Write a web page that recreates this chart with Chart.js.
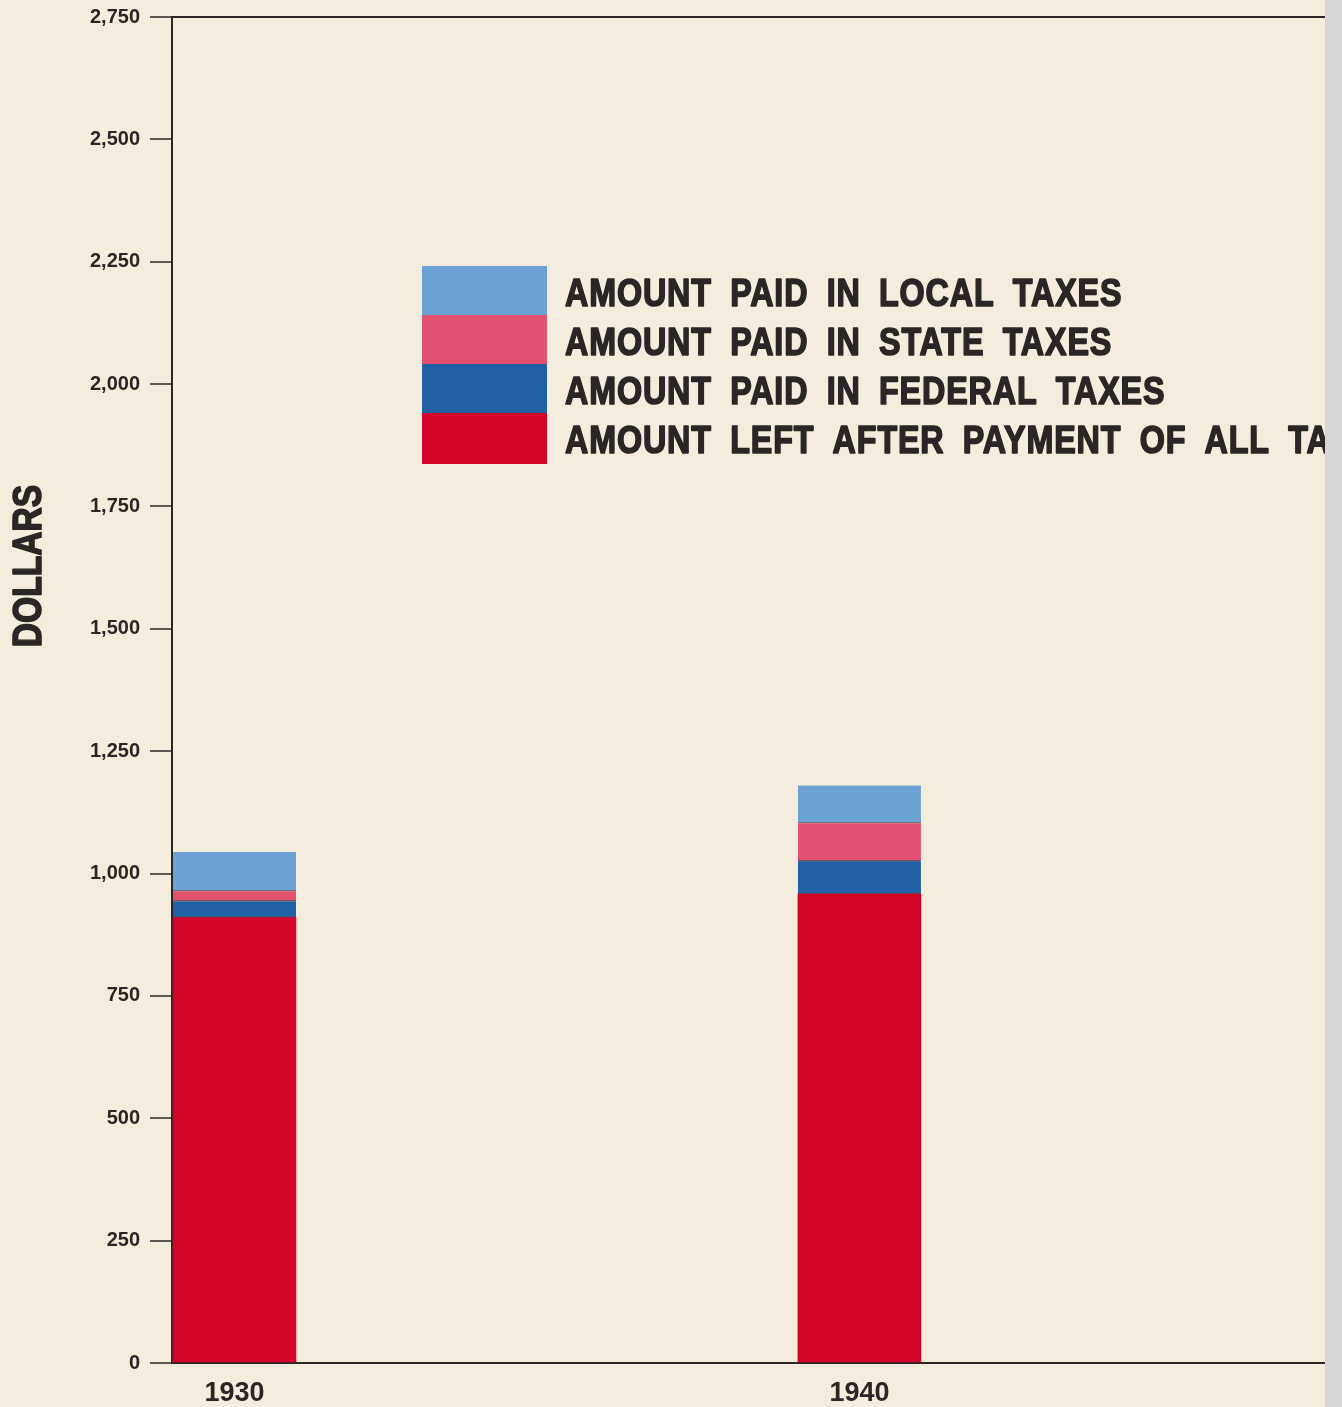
<!DOCTYPE html>
<html>
<head>
<meta charset="utf-8">
<script src="https://cdn.jsdelivr.net/npm/chart.js@4.4.1/dist/chart.umd.min.js"></script>
<style>
  html, body { margin: 0; padding: 0; background: #d5d8d6; }
  #page { width: 1325px; height: 1407px; background: #f4eddd; position: relative; }
</style>
</head>
<body>
<div id="page"><canvas id="chart"></canvas></div>
<script>
// values (dollars)
const years = [1930, 1940];
const leftAfterTaxes = [910, 958];
const federalTaxes = [33, 67];
const stateTaxes = [21, 78];
const localTaxes = [80, 77];
const yTicks = [0, 250, 500, 750, 1000, 1250, 1500, 1750, 2000, 2250, 2500, 2750];

const seriesLabels = [
    'AMOUNT LEFT AFTER PAYMENT OF ALL TAXES',
    'AMOUNT PAID IN FEDERAL TAXES',
    'AMOUNT PAID IN STATE TAXES',
    'AMOUNT PAID IN LOCAL TAXES'
];
const seriesColors = ['#d2042a', '#2161a6', '#e25170', '#6ca2d3'];
const ink = '#2a2626';

const toPoints = arr => years.map((yr, i) => ({ x: yr, y: arr[i] }));

// heavy condensed text, like the printed lettering
function heavyText(ctx, text, x, y, sx) {
    ctx.save();
    ctx.translate(x, y);
    ctx.scale(sx, 1);
    ctx.lineWidth = 1.6;
    ctx.lineJoin = 'round';
    ctx.strokeStyle = ink;
    ctx.strokeText(text, 0, 0);
    ctx.fillText(text, 0, 0);
    ctx.restore();
}

// big legend block + condensed axis title, drawn over the chart
const paperLegend = {
    id: 'paperLegend',
    afterDraw(chart) {
        const ctx = chart.ctx;
        const ds = chart.data.datasets.slice().reverse(); // local on top
        const sx = 422, sy = 266, sw = 125, rh = 49;
        ctx.save();
        ds.forEach((d, i) => {
            ctx.fillStyle = d.backgroundColor;
            ctx.fillRect(sx, sy + i * rh, sw, rh + (i === ds.length - 1 ? 2 : 0));
        });
        ctx.fillStyle = ink;
        ctx.textBaseline = 'alphabetic';
        ctx.font = 'bold 38px "Liberation Sans", Arial, sans-serif';
        if ('letterSpacing' in ctx) ctx.letterSpacing = '1px';
        if ('wordSpacing' in ctx) ctx.wordSpacing = '10px';
        ds.forEach((d, i) => heavyText(ctx, d.label, 565, sy + i * rh + 40, 0.85));
        ctx.restore();

        // y axis title
        ctx.save();
        ctx.fillStyle = ink;
        ctx.font = 'bold 40px "Liberation Sans", Arial, sans-serif';
        ctx.textAlign = 'center';
        ctx.textBaseline = 'middle';
        ctx.translate(30, 566);
        ctx.rotate(-Math.PI / 2);
        heavyText(ctx, 'DOLLARS', 0, 0, 0.84);
        ctx.restore();
    }
};

const sepBorder = { top: 0, bottom: 1.5, left: 0, right: 0 };

const chart = new Chart(document.getElementById('chart').getContext('2d'), {
    type: 'bar',
    data: {
        datasets: [
            { label: seriesLabels[0], data: toPoints(leftAfterTaxes), backgroundColor: seriesColors[0], borderWidth: 0 },
            { label: seriesLabels[1], data: toPoints(federalTaxes), backgroundColor: seriesColors[1], borderColor: 'rgba(30,25,45,0.75)', borderWidth: sepBorder, borderSkipped: false },
            { label: seriesLabels[2], data: toPoints(stateTaxes), backgroundColor: seriesColors[2], borderColor: 'rgba(30,25,45,0.75)', borderWidth: sepBorder, borderSkipped: false },
            { label: seriesLabels[3], data: toPoints(localTaxes), backgroundColor: seriesColors[3], borderColor: 'rgba(30,25,45,0.6)', borderWidth: sepBorder, borderSkipped: false }
        ]
    },
    options: {
        responsive: true,
        maintainAspectRatio: false,
        animation: false,
        barThickness: 123,
        grouped: false,
        layout: { padding: { top: 17, right: 0, bottom: 0, left: 0 } },
        plugins: {
            legend: { display: false },
            tooltip: { enabled: false }
        },
        scales: {
            x: {
                type: 'linear',
                offset: false,
                min: 1929,
                max: 1947.45,
                afterBuildTicks: scale => { scale.ticks = years.map(v => ({ value: v })); },
                afterFit: scale => { scale.height = 44; },
                ticks: {
                    callback: v => String(v),
                    color: ink,
                    padding: 14,
                    maxRotation: 0,
                    autoSkip: false,
                    font: { family: '"Liberation Sans", Arial, sans-serif', size: 27, weight: 'bold' }
                },
                grid: { display: true, drawOnChartArea: false, drawTicks: false },
                border: { display: true, color: ink, width: 2 }
            },
            y: {
                stacked: true,
                min: 0,
                max: 2750,
                afterBuildTicks: scale => { scale.ticks = yTicks.map(v => ({ value: v })); },
                afterFit: scale => {
                    scale.width = 172;
                    scale.paddingTop = 0;
                    scale.paddingBottom = 0;
                },
                ticks: {
                    callback: v => v.toLocaleString('en-US'),
                    color: ink,
                    padding: 10,
                    font: { family: '"Liberation Sans", Arial, sans-serif', size: 20, weight: 'bold' }
                },
                grid: {
                    color: c => (c.tick && c.tick.value === 2750 ? ink : 'rgba(0,0,0,0)'),
                    lineWidth: 2,
                    tickColor: ink,
                    tickLength: 22,
                    tickWidth: 1.5
                },
                border: { display: true, color: ink, width: 2 }
            }
        }
    },
    plugins: [paperLegend]
});
</script>
</body>
</html>
